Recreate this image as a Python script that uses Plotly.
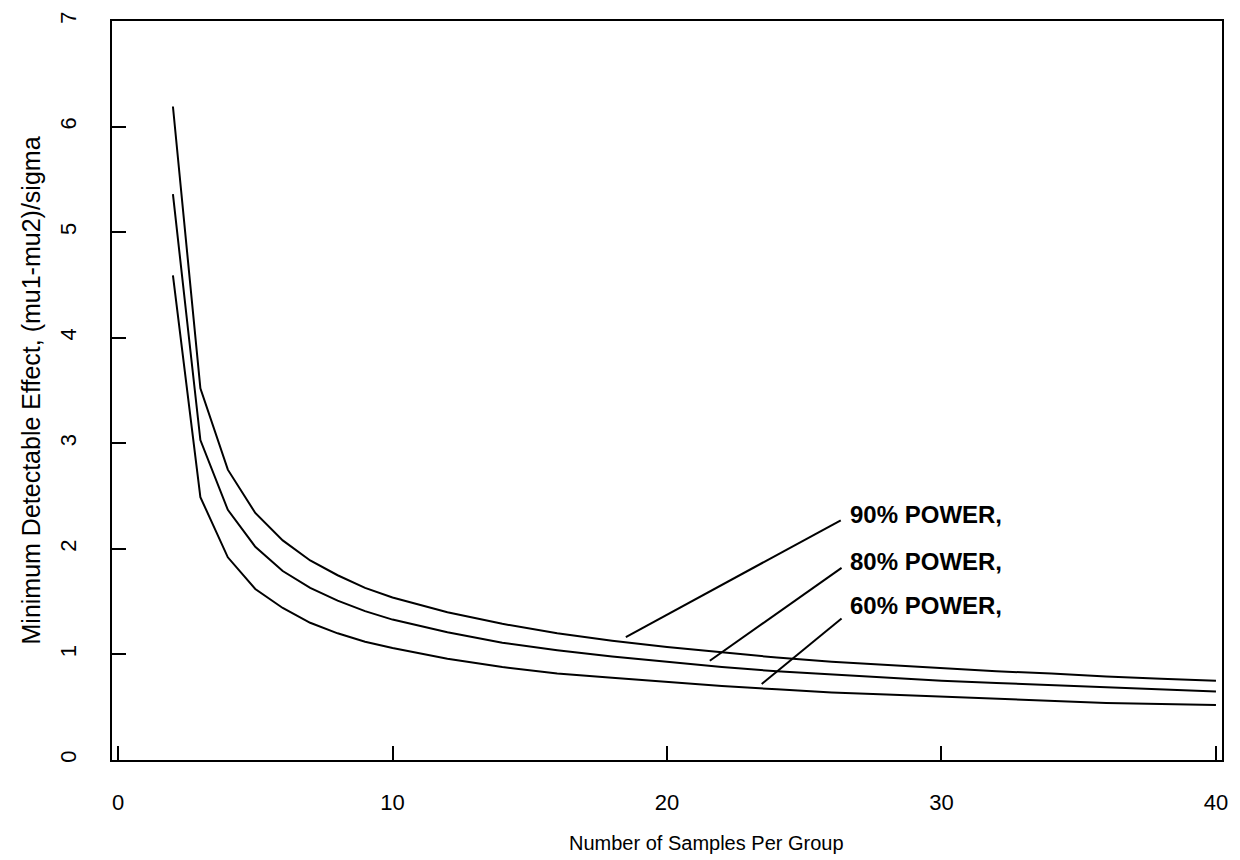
import plotly.graph_objects as go

# Number of samples per group
n_samples = [2, 3, 4, 5, 6, 7, 8, 9, 10, 12, 14, 16, 18, 20, 22, 24, 26, 28, 30, 32, 34, 36, 38, 40]

# Minimum detectable effect (mu1-mu2)/sigma
power_90 = [6.19, 3.52, 2.75, 2.34, 2.08, 1.89, 1.75, 1.63, 1.54, 1.40, 1.29, 1.20, 1.13, 1.07,
            1.02, 0.97, 0.93, 0.90, 0.87, 0.84, 0.82, 0.79, 0.77, 0.75]
power_80 = [5.36, 3.03, 2.37, 2.02, 1.79, 1.63, 1.51, 1.41, 1.33, 1.21, 1.11, 1.04, 0.98, 0.93,
            0.88, 0.84, 0.81, 0.78, 0.75, 0.73, 0.71, 0.69, 0.67, 0.65]
power_60 = [4.59, 2.49, 1.92, 1.62, 1.44, 1.30, 1.20, 1.12, 1.06, 0.96, 0.88, 0.82, 0.78, 0.74,
            0.70, 0.67, 0.64, 0.62, 0.60, 0.58, 0.56, 0.54, 0.53, 0.52]

# Curve labels and their pointer lines (data coordinates)
label_texts = ["90% POWER,", "80% POWER,", "60% POWER,"]
label_x = [26.6, 26.6, 26.6]
label_y = [2.33, 1.88, 1.46]
pointer_x0 = [18.5, 21.56, 23.45]
pointer_y0 = [1.165, 0.94, 0.72]
pointer_x1 = [26.33, 26.36, 26.36]
pointer_y1 = [2.27, 1.82, 1.34]

x_ticks = [0, 10, 20, 30, 40]
y_ticks = [0, 1, 2, 3, 4, 5, 6, 7]

x_title = "Number of Samples Per Group"
y_title = "Minimum Detectable Effect, (mu1-mu2)/sigma"

FONT = "Liberation Sans, Arial, Helvetica, sans-serif"

fig = go.Figure()
for ys in (power_90, power_80, power_60):
    fig.add_trace(go.Scatter(x=n_samples, y=ys, mode="lines",
                             line=dict(color="black", width=2), hoverinfo="skip"))

for i in range(len(label_texts)):
    fig.add_trace(go.Scatter(x=[pointer_x0[i], pointer_x1[i]], y=[pointer_y0[i], pointer_y1[i]],
                             mode="lines", line=dict(color="black", width=2), hoverinfo="skip"))
    fig.add_annotation(x=label_x[i], y=label_y[i], text=label_texts[i], showarrow=False,
                       xanchor="left", yanchor="middle", xref="x", yref="y",
                       font=dict(family=FONT, size=24, color="black", weight="bold"))

# Axis titles
fig.add_annotation(x=0.536, y=0, xref="paper", yref="paper", yshift=-83,
                   text=x_title, showarrow=False, xanchor="center", yanchor="middle",
                   font=dict(family=FONT, size=20, color="black"))
fig.add_annotation(x=0, y=0.5, xref="paper", yref="paper", xshift=-82,
                   text=y_title, showarrow=False, textangle=-90,
                   xanchor="center", yanchor="middle",
                   font=dict(family=FONT, size=25, color="black"))

fig.update_layout(
    width=1240, height=860,
    margin=dict(l=112, r=16, t=15, b=100),
    paper_bgcolor="white", plot_bgcolor="white",
    showlegend=False,
    font=dict(family=FONT, size=21, color="black"),
)
fig.update_xaxes(
    range=[-0.22, 40.22], tickvals=x_ticks, ticks="inside", ticklen=14, tickwidth=2,
    tickcolor="black", showline=True, linecolor="black", linewidth=2, mirror=True,
    showgrid=False, zeroline=False, ticklabelstandoff=22, tickfont=dict(size=22),
)
fig.update_yaxes(
    range=[0, 7], tickvals=y_ticks, ticks="inside", ticklen=14, tickwidth=2,
    tickcolor="black", showline=True, linecolor="black", linewidth=2, mirror=True,
    showgrid=False, zeroline=False, tickangle=-90, ticklabelstandoff=25, tickfont=dict(size=22),
)

fig.write_html("out.html", config={"displayModeBar": False},
               post_script="document.body.style.margin='0';")
